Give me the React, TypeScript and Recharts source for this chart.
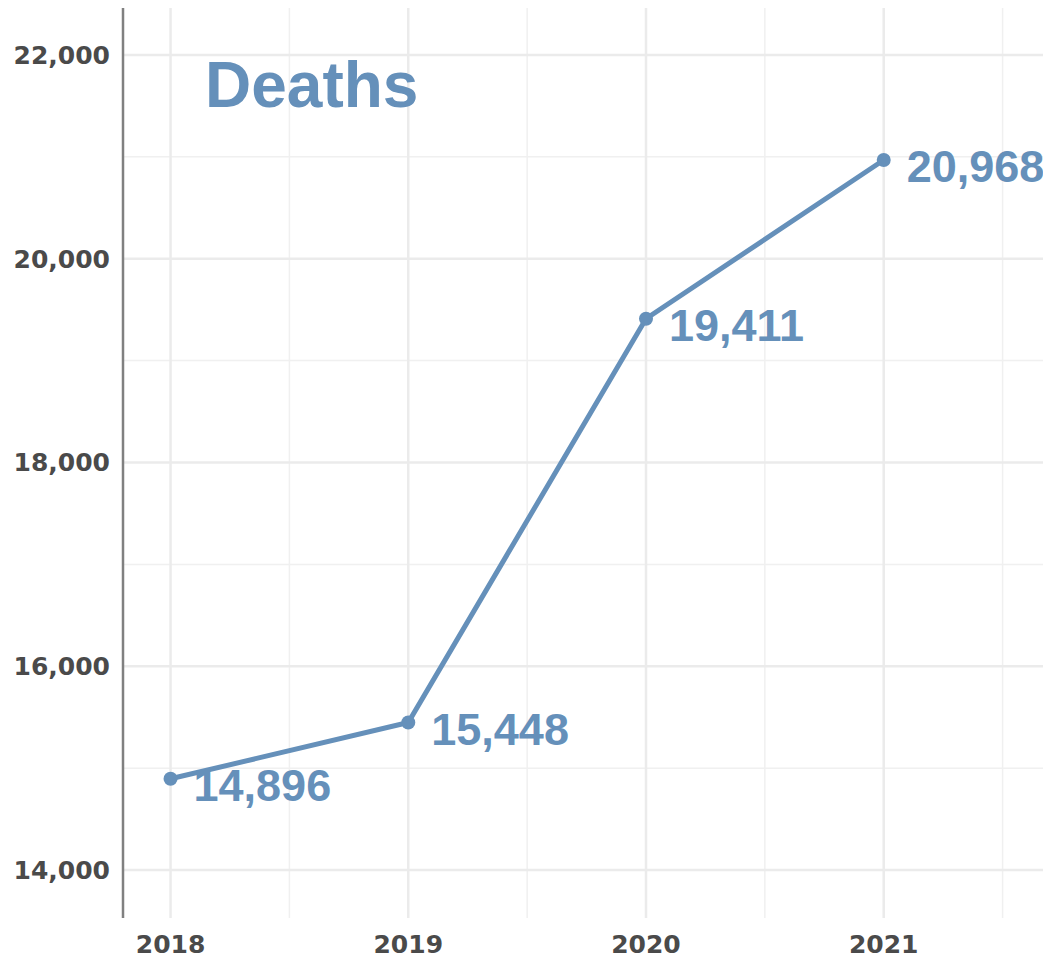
import React from 'react';
import {
  LineChart,
  Line,
  XAxis,
  YAxis,
  CartesianGrid,
  LabelList
} from 'recharts';

const years = [2018, 2019, 2020, 2021];
const deaths = [14896, 15448, 19411, 20968];

const xMajorTicks = [2018, 2019, 2020, 2021];
const xMinorTicks = [2018.5, 2019.5, 2020.5, 2021.5];
const yMajorTicks = [14000, 16000, 18000, 20000, 22000];
const yMinorTicks = [15000, 17000, 19000, 21000];

const chartData = years.map((year, i) => ({ year, deaths: deaths[i] }));

const BLUE = '#6590ba';
const AXIS_TEXT = '#4a4a4a';
const TICK_FONT = { fill: AXIS_TEXT, fontSize: 25, fontWeight: 700, fontFamily: "'DejaVu Sans', sans-serif" };

function DeathLabel(props: any) {
  const { x, y, value } = props;
  return (
    <text
      x={x + 23}
      y={y + 22}
      fill={BLUE}
      fontSize={45}
      fontWeight={700}
      fontFamily="'Liberation Sans', Arial, sans-serif"
    >
      {Number(value).toLocaleString('en-US')}
    </text>
  );
}

export default function App() {
  return (
    <div style={{ position: 'absolute', left: 0, top: 0, width: 1043, height: 960, background: 'white' }}>
      <LineChart
        width={1043}
        height={960}
        data={chartData}
        margin={{ top: 8, right: 0, left: 0, bottom: 0 }}
      >
        <CartesianGrid
          stroke="#f0f0f0"
          strokeWidth={1.5}
          horizontalValues={yMinorTicks}
          verticalValues={xMinorTicks}
        />
        <CartesianGrid
          stroke="#ebebeb"
          strokeWidth={2.5}
          horizontalValues={yMajorTicks}
          verticalValues={xMajorTicks}
        />
        <XAxis
          dataKey="year"
          type="number"
          domain={[2017.8, 2021.67]}
          ticks={xMajorTicks}
          allowDataOverflow
          axisLine={false}
          tickLine={false}
          tickMargin={11}
          height={42}
          tick={TICK_FONT}
        />
        <YAxis
          type="number"
          domain={[13530, 22460]}
          ticks={yMajorTicks}
          allowDataOverflow
          width={123}
          axisLine={{ stroke: '#808080', strokeWidth: 2.5 }}
          tickLine={false}
          tickMargin={7}
          tickFormatter={(v: number) => v.toLocaleString('en-US')}
          tick={TICK_FONT}
        />
        <Line
          dataKey="deaths"
          stroke={BLUE}
          strokeWidth={5}
          dot={{ r: 7, fill: BLUE, stroke: BLUE, strokeWidth: 0 }}
          activeDot={false}
          isAnimationActive={false}
        >
          <LabelList dataKey="deaths" content={DeathLabel} />
        </Line>
      </LineChart>
      <svg
        width={1043}
        height={960}
        style={{ position: 'absolute', left: 0, top: 0, pointerEvents: 'none' }}
      >
        <text
          x={205}
          y={107}
          fill={BLUE}
          fontSize={64}
          fontWeight={700}
          fontFamily="'Liberation Sans', Arial, sans-serif"
        >
          Deaths
        </text>
      </svg>
    </div>
  );
}
